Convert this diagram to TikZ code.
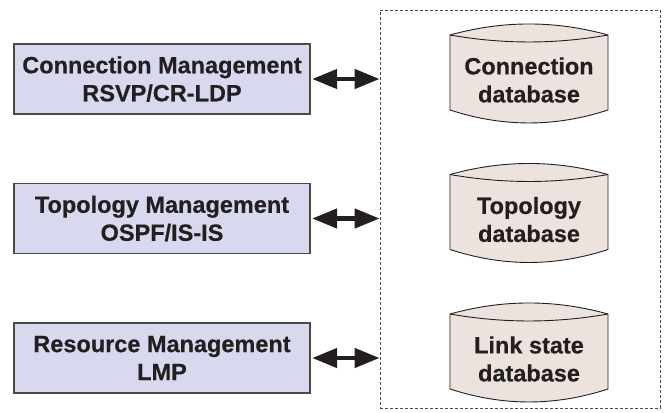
\documentclass[tikz,border=0pt]{standalone}
\usepackage{fontspec}
\setmainfont{Liberation Sans}[BoldFeatures={FakeBold=0.4}]
\usetikzlibrary{arrows.meta}
\definecolor{mgmtfill}{HTML}{D8D8EE}
\definecolor{dbfill}{HTML}{EDE3DE}
\definecolor{inkc}{HTML}{231F20}
\definecolor{edgec}{HTML}{4A4A4A}
\tikzset{
  mgmt/.style={draw=edgec, line width=1.3pt, fill=mgmtfill, minimum width=296pt,
    minimum height=70pt, inner sep=0pt, align=center, text=inkc,
    font=\fontsize{23.5}{28}\selectfont\bfseries},
  dblabel/.style={align=center, text=inkc, inner sep=0pt,
    font=\fontsize{23.5}{28}\selectfont\bfseries},
  dbshape/.style={draw=inkc, line width=0.9pt, fill=dbfill},
  link/.style={line width=4.5pt, draw=inkc,
    {Triangle[length=25pt,width=19pt]}-{Triangle[length=25pt,width=19pt]}},
  frame/.style={draw=edgec, line width=0.8pt, dash pattern=on 3pt off 2pt}
}
\newcommand{\dbcyl}[1]{%
  % body with a domed top and a bulging bottom
  \path[dbshape] (450,#1+35) .. controls (503,#1+20.3) and (555,#1+20.3) .. (608,#1+35)
    -- (608,#1+110) .. controls (555,#1+127.3) and (503,#1+127.3) .. (450,#1+110) -- cycle;
  % inner rim of the top
  \draw[inkc, line width=0.9pt] (450,#1+35) .. controls (503,#1+44.3) and (555,#1+44.3) .. (608,#1+35);
}
\begin{document}
\begin{tikzpicture}[x=1pt, y=-1pt]
\useasboundingbox (0,0) rectangle (666,412);

% dashed store boundary
\node[frame, minimum width=280pt, minimum height=398pt, inner sep=0pt] (store) at (520,209) {};

% management modules
\node[mgmt] (conn) at (162,79) {Connection Management\\RSVP/CR-LDP};
\node[mgmt] (topo) at (162,218.5) {Topology Management\\OSPF/IS-IS};
\node[mgmt] (res)  at (162,358) {Resource Management\\LMP};

% databases
\dbcyl{0}
\dbcyl{139.5}
\dbcyl{279}
\node[dblabel] (conndb) at (529,80) {Connection\\database};
\node[dblabel] (topodb) at (529,219.5) {Topology\\database};
\node[dblabel] (linkdb) at (529,359) {Link state\\database};

% exchanges with the store
\draw[link] ([xshift=1.5pt]conn.east) -- (conn.east -| store.west);
\draw[link] ([xshift=1.5pt]topo.east) -- (topo.east -| store.west);
\draw[link] ([xshift=1.5pt]res.east) -- (res.east -| store.west);
\end{tikzpicture}
\end{document}
